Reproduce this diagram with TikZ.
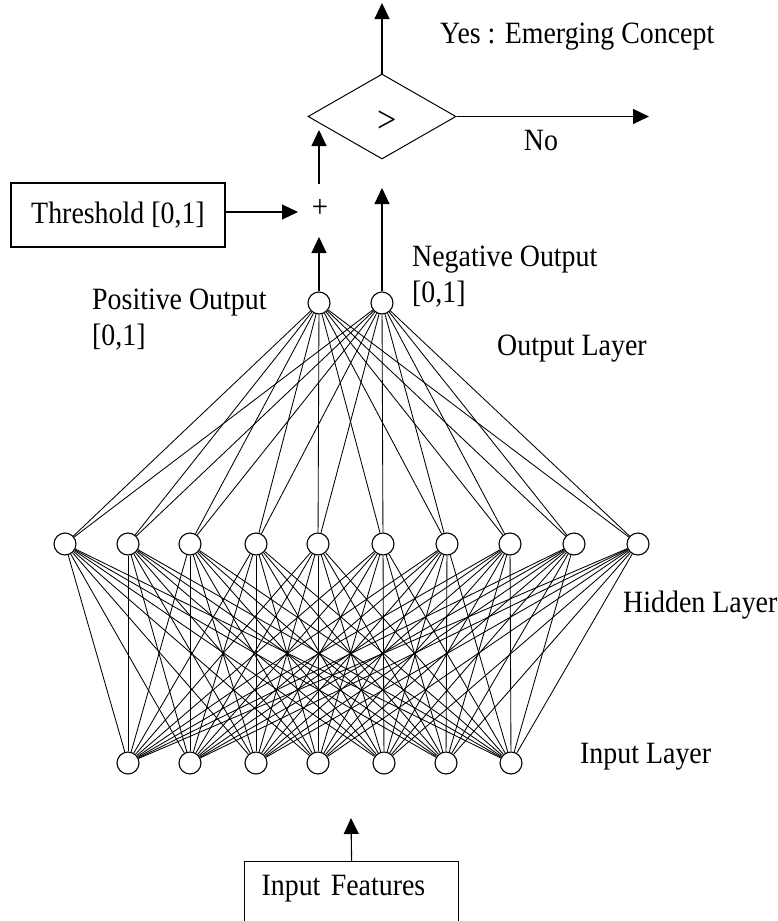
\documentclass[tikz,border=0pt]{standalone}
\usepackage{fontspec}
\setmainfont[FakeStretch=0.9]{Liberation Serif}
\usetikzlibrary{arrows.meta,shapes.geometric}
\begin{document}
\begin{tikzpicture}[x=1pt,y=-1pt,
  neuron/.style={draw, circle, minimum size=22pt, inner sep=0pt, line width=1.1pt},
  conn/.style={line width=0.85pt},
  arr/.style={line width=1.1pt, -{Triangle[length=16pt,width=15pt]}},
  lbl/.style={font=\fontsize{31}{36}\selectfont, inner sep=0pt, anchor=base west},
  boxnode/.style={draw, line width=1.2pt, font=\fontsize{31}{36}\selectfont}
]
\useasboundingbox (0,0) rectangle (778,921);
\clip (0,0) rectangle (778,921);

% layers
\foreach \x [count=\i] in {65,128,190,256,318,383,447,510,574,638}
  \node[neuron] (h\i) at (\x,544) {};
\foreach \x [count=\i] in {128,190,256,318,384,446,511}
  \node[neuron] (in\i) at (\x,763) {};
\node[neuron] (o1) at (319,303) {};
\node[neuron] (o2) at (382,303) {};

\foreach \i in {1,...,10} {
  \draw[conn] (o1) -- (h\i);
  \draw[conn] (o2) -- (h\i);
  \foreach \j in {1,...,7} {\draw[conn] (h\i) -- (in\j);}
}

% comparison
\node[draw, diamond, aspect=1.74, minimum width=148pt, minimum height=85pt, inner sep=0pt, line width=1pt] (cmp) at (382,116.5) {};
\node[font=\fontsize{38}{40}\selectfont, inner sep=0pt] (gt) at (387,122) {>};
\node[font=\fontsize{32}{36}\selectfont, inner sep=0pt] (plus) at (320,208) {+};

\coordinate (yesend) at (382,3);
\coordinate (noend) at (649,116.5);
\coordinate (sumout) at (319,184);
\coordinate (sumtop) at (319,130);
\coordinate (thrin) at (298,212);
\coordinate (posin) at (319,237);
\coordinate (negin) at (382,188);
\coordinate (featin) at (351,818);

\draw[arr] (cmp.north) -- (yesend);
\draw[arr] (cmp.east) -- (noend);
\draw[arr] (sumout) -- (sumtop);

\node[boxnode, minimum width=214pt, minimum height=64pt, text height=21pt, text depth=5pt, inner sep=0pt] (thr) at (118,215) {Threshold [0,1]};
\draw[arr] (thr.east |- thrin) -- (thrin);

\draw[arr] (o1) -- (posin);
\draw[arr] (o2) -- (negin);

\node[draw, line width=1.2pt, anchor=north west, text width=180pt, inner xsep=17pt, inner ysep=0pt, align=left, text height=34pt, text depth=46pt, font=\fontsize{31}{36}\selectfont] (feat) at (244,861) {Input Features};
\draw[arr] (feat.north) -- (featin);

% labels
\node[lbl] (yes) at (440,43) {Yes : Emerging Concept};
\node[lbl, anchor=base] (no) at (541,150) {No};
\node[lbl] (neg) at (412,266) {Negative Output};
\node[lbl] (negr) at (412,302) {[0,1]};
\node[lbl] (pos) at (92,309) {Positive Output};
\node[lbl] (posr) at (92,345) {[0,1]};
\node[lbl] (outl) at (497,355) {Output Layer};
\node[lbl] (hid) at (623,612) {Hidden Layer};
\node[lbl] (inl) at (580,763) {Input Layer};
\end{tikzpicture}
\end{document}
